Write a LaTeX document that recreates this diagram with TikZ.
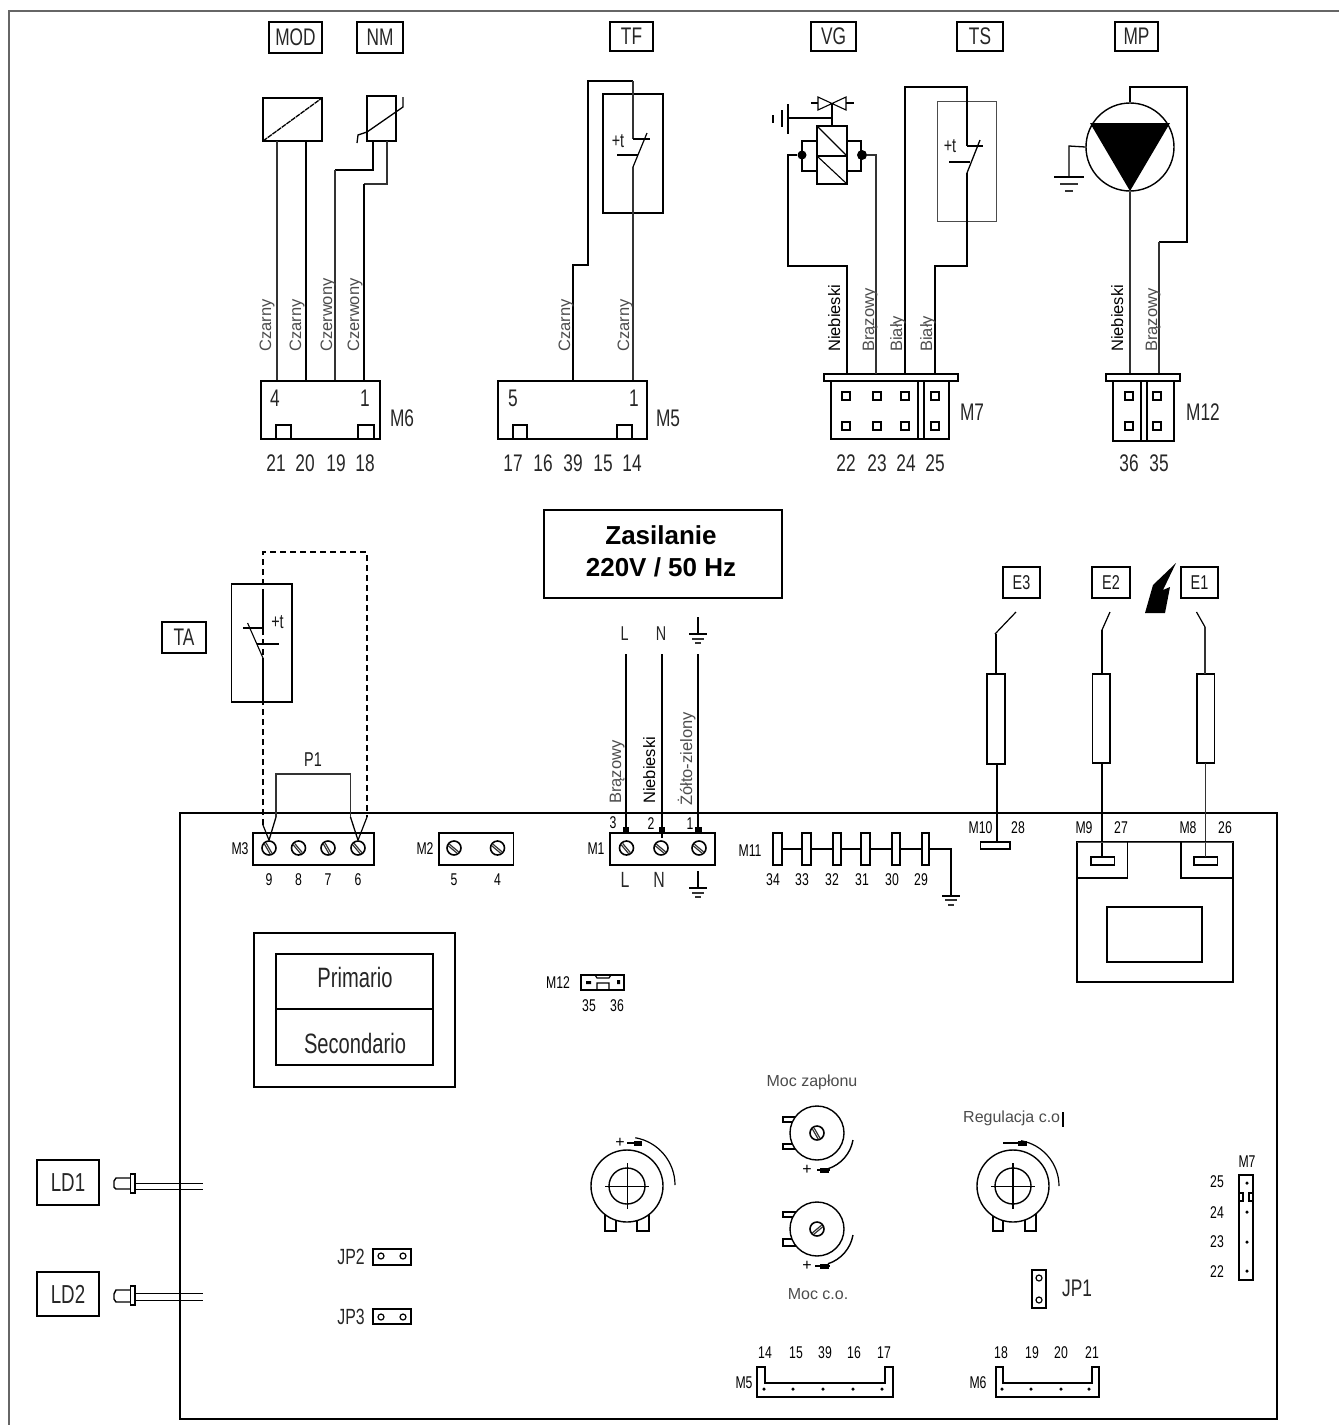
\documentclass[tikz,border=0pt]{standalone}
\usepackage{fontspec}
\setmainfont{Liberation Sans}
\newfontfamily\cad[FakeStretch=0.72]{Liberation Sans}
\usetikzlibrary{calc}
\newcommand\bx[6]{\node[boxn,#6,minimum width={(#4)-(#2)},minimum height={(#5)-(#3)}] (#1) at ({((#2)+(#4))/2},{((#3)+(#5))/2}) {};}
\newcommand\sq[3]{\node[sqn] (#1) at (#2,#3) {};}
\newcommand\screw[4]{\node[screwn] (#1) at (#2,#3) {};\draw[thinw] ($(#1)+(#4:6)$) -- ($(#1)+(#4+180:6)$);\draw[thinw] ($(#1)+(#4:6)+(#4+90:2)$) -- ($(#1)+(#4+180:6)+(#4+90:2)$);}
\newcommand\gnd[7]{\draw[thickw,line width=1.6pt] (#1-#3,#2) -- (#1+#3,#2);\draw[thinw,line width=1.2pt] (#1-#4,#2+#5) -- (#1+#4,#2+#5);\draw[thinw,line width=1.6pt] (#1-#6,#2+#7) -- (#1+#6,#2+#7);}
\tikzset{
 x=1pt,y=-1pt,
 boxn/.style={draw,inner sep=0pt,outer sep=0pt,line width=1.2pt},
 tb/.style={line width=2.2pt},
 sqn/.style={draw,inner sep=0pt,minimum size=8pt,line width=1.2pt},
 screwn/.style={draw,circle,inner sep=0pt,minimum size=14pt,line width=1.6pt},
 holen/.style={draw,circle,inner sep=0pt,minimum size=6pt,line width=1.2pt},
 dotn/.style={fill,circle,inner sep=0pt,minimum size=3.5pt},
 potn/.style={draw,circle,fill=white,inner sep=0pt,line width=1.4pt},
 thinw/.style={line width=1.2pt,draw=black!80},
 thickw/.style={line width=2.2pt,draw=black},
 big/.style={font=\cad\fontsize{24}{24}\selectfont,inner sep=0pt,text=black!85},
 mid/.style={font=\cad\fontsize{20}{20}\selectfont,inner sep=0pt,text=black!90},
 small/.style={font=\cad\fontsize{17}{17}\selectfont,inner sep=0pt,text=black},
 wl/.style={rotate=90,anchor=base west,inner sep=0pt,font=\fontsize{16.5}{16.5}\selectfont,text=black!70},
 wk/.style={wl,text=black},
 gl/.style={inner sep=0pt,font=\fontsize{16}{16}\selectfont,text=black!70},
}
\begin{document}
\begin{tikzpicture}
\useasboundingbox (0,0) rectangle (1339,1425);
% page frame
\coordinate (fA) at (9,1425); \coordinate (fB) at (9,11); \coordinate (fC) at (1339,11);
\draw[line width=1.4pt,draw=black!60] (fA) -- (fB) -- (fC);
% title tags
\bx{tMOD}{269}{22}{322}{53}{line width=1.8pt}\node[big] (ttMOD) at (tMOD) {MOD};
\bx{tNM}{357}{22}{403}{53}{line width=1.6pt}\node[big] (ttNM) at (tNM) {NM};
\bx{tTF}{610}{22}{653}{51}{line width=1.6pt}\node[big] (ttTF) at (tTF) {TF};
\bx{tVG}{811}{22}{856}{51}{line width=1.6pt}\node[big] (ttVG) at (tVG) {VG};
\bx{tTS}{957}{22}{1003}{51}{line width=1.8pt}\node[big] (ttTS) at (tTS) {TS};
\bx{tMP}{1115}{22}{1158}{51}{line width=1.6pt}\node[big] (ttMP) at (tMP) {MP};
% M6
\bx{M6}{261}{381}{380}{439}{line width=1.4pt}
\bx{m6a}{276}{425}{291}{439}{line width=1.4pt}
\bx{m6b}{358}{425}{374}{439}{line width=1.4pt}
\node[big] (m6n4) at (275,398) {4}; \node[big] (m6n1) at (365,398) {1}; \node[big] (m6l) at (402,418) {M6};
\node[big] (n21) at (276,463) {21}; \node[big] (n20) at (305,463) {20}; \node[big] (n19) at (336,463) {19}; \node[big] (n18) at (365,463) {18};
% MOD
\bx{MOD}{263}{98}{322}{141}{line width=1.5pt}
\coordinate (modA) at (277,141); \coordinate (modB) at (306,141);
\coordinate (p21) at (277,380); \coordinate (p20) at (306,380); \coordinate (p19) at (335,380); \coordinate (p18) at (364,380);
\draw[line width=1.3pt,dash pattern=on 5pt off .8pt] (MOD.south west) -- (MOD.north east);
\draw[thinw] (modA) -- (p21);
\draw[thickw] (modB) -- (p20);
% NM
\bx{NM}{367}{96}{396}{141}{line width=1.2pt}
\draw[line width=1.3pt] (357,143) -- (358,135) -- (367,132) -- (403,107) -- (403,97);
\coordinate (nmA) at (373,141); \coordinate (nmB) at (387,141);
\draw[thickw] (nmA) -- (373,170) -- (335,170);
\draw[thinw] (335,170) -- (p19);
\draw[thinw] (nmB) -- (387,184) -- (364,184);
\draw[thickw] (364,184) -- (p18);
\node[wl] (wa) at (271,352) {Czarny}; \node[wl] (wb) at (301,352) {Czarny};
\node[wl] (wc) at (332,352) {Czerwony}; \node[wl] (wd) at (359,352) {Czerwony};
% M5
\bx{M5}{498}{381}{647}{439}{line width=1.4pt}
\bx{m5a}{513}{425}{527}{439}{line width=1.4pt}
\bx{m5b}{617}{425}{632}{439}{line width=1.4pt}
\node[big] (m5n5) at (513,398) {5}; \node[big] (m5n1) at (634,398) {1}; \node[big] (m5l) at (668,418) {M5};
\node[big] (n17) at (513,463) {17}; \node[big] (n16) at (543,463) {16}; \node[big] (n39) at (573,463) {39}; \node[big] (n15) at (603,463) {15}; \node[big] (n14) at (632,463) {14};
% TF
\bx{TF}{603}{94}{663}{213}{line width=1.8pt}
\coordinate (p39) at (573,380); \coordinate (p14) at (633,380);
\draw[thickw] (p39) -- (573,265) -- (588,265) -- (588,81) -- (633,81);
\draw[thinw] (633,81) -- (633,139);
\draw[line width=1.6pt] (633,139) -- (650,139);
\draw[line width=1.2pt] (647,133) -- (633,167);
\draw[line width=1.6pt] (617,155) -- (638,155);
\draw[thinw] (633,167) -- (p14);
\node[mid] (tfT) at (618,141) {+t};
\node[wl] (we) at (570,352) {Czarny}; \node[wl] (wf) at (629,352) {Czarny};
% M7
\bx{M7bar}{824}{374}{958}{381}{line width=1.4pt}
\bx{M7}{831}{381}{949}{439}{line width=1.4pt}
\draw[line width=1.4pt] (918,381) -- (918,439) (924,381) -- (924,439);
\sq{q1}{846}{396}\sq{q2}{877}{396}\sq{q3}{905}{396}\sq{q4}{935}{396}
\sq{q5}{846}{426}\sq{q6}{877}{426}\sq{q7}{905}{426}\sq{q8}{935}{426}
\node[big] (m7l) at (972,412) {M7};
\node[big] (n22) at (846,463) {22}; \node[big] (n23) at (877,463) {23}; \node[big] (n24) at (906,463) {24}; \node[big] (n25) at (935,463) {25};
% VG
\bx{VGc}{817}{126}{847}{184}{line width=1.2pt}
\draw[line width=1.2pt] (817,156) -- (847,156);
\draw[line width=1.1pt] (817,126) -- (847,156) (817,156) -- (847,184);
\draw[line width=1.1pt] (818,97) -- (846,110) -- (846,97) -- (818,110) -- cycle;
\draw[line width=1.1pt] (811,103) -- (818,103) (846,103) -- (854,103);
\draw[line width=1.3pt] (832,103) -- (VGc.north);
\draw[line width=1.3pt] (788,118) -- (832,118);
\draw[line width=1.6pt] (788,104) -- (788,134);
\draw[line width=1.3pt] (782,110) -- (782,127);
\draw[line width=1.6pt] (773,115) -- (773,123);
\draw[line width=1.2pt] (817,141) -- (802,141) -- (802,171) -- (817,171);
\draw[line width=1.2pt] (847,141) -- (861,141) -- (861,171) -- (847,171);
\node[dotn,minimum size=9pt] (dL) at (802,155) {}; \node[dotn,minimum size=10pt] (dR) at (862,155) {};
\coordinate (p22) at (847,374); \coordinate (p23) at (876,374); \coordinate (p24) at (905,374); \coordinate (p25) at (935,374);
\draw[thickw] (dL) -- (788,155) -- (788,266) -- (847,266) -- (p22);
\draw[thinw] (dR) -- (876,155) -- (p23);
% TS
\bx{TS}{937}{101}{996}{221}{draw=black!70,line width=1pt}
\draw[thickw] (p24) -- (905,87) -- (967,87) -- (967,146);
\draw[line width=1.8pt] (967,146) -- (983,146);
\draw[line width=1.3pt] (980,140) -- (967,173);
\draw[line width=1.8pt] (949,162) -- (970,162);
\draw[thickw] (967,173) -- (967,266) -- (935,266) -- (p25);
\node[mid] (tsT) at (950,146) {+t};
\node[wk] (wg) at (840,352) {Niebieski}; \node[wl] (wh) at (874,352) {Brązowy};
\node[wl] (wi) at (902,352) {Biały}; \node[wl] (wj) at (932,352) {Biały};
% Pump
\node[draw,circle,inner sep=0pt,minimum size=88pt,line width=1.4pt] (MP) at (1130,147) {};
\fill (1090,123) -- (1170,123) -- (1130,191) -- cycle;
\coordinate (p36) at (1130,374); \coordinate (p35) at (1159,374);
\draw[thinw] (MP.south) -- (p36);
\draw[line width=1.8pt] (MP.north) -- (1130,87) -- (1187,87) -- (1187,242) -- (1159,242);
\draw[thinw] (1159,242) -- (p35);
\draw[line width=1.3pt] (MP.west) -- (1069,146) -- (1069,177);
\gnd{1069}{177}{15}{9}{7}{4}{14}
\bx{M12bar}{1106}{374}{1180}{381}{line width=1.4pt}
\bx{M12}{1113}{381}{1174}{441}{line width=1.9pt}
\draw[line width=1.6pt] (1141,381) -- (1141,441) (1147,381) -- (1147,441);
\sq{q9}{1129}{396}\sq{q10}{1157}{396}\sq{q11}{1129}{426}\sq{q12}{1157}{426}
\node[big] (m12l) at (1203,412) {M12};
\node[big] (n36) at (1129,463) {36}; \node[big] (n35) at (1159,463) {35};
\node[wk] (wk1) at (1123,352) {Niebieski}; \node[wl] (wl1) at (1157,352) {Brązowy};
% Zasilanie
\bx{ZAS}{544}{510}{782}{598}{line width=1.2pt}
\node[inner sep=0pt,align=center,font=\bfseries\fontsize{26}{32}\selectfont] (zast) at (661,551) {Zasilanie\\220V / 50 Hz};
% board
\bx{BOARD}{180}{813}{1277}{1419}{line width=2pt}
% TA
\bx{TAtag}{162}{622}{206}{653}{line width=1.4pt}\node[big] (ttTA) at (TAtag) {TA};
\bx{TA}{231.5}{584}{292}{702}{line width=1.8pt}
\draw[line width=1.5pt] (263,594) -- (263,628) -- (243,628);
\draw[line width=1.1pt] (247.6,623) -- (263,658);
\draw[line width=1.6pt] (257,644) -- (279,644);
\draw[line width=1.5pt] (263,658) -- (263,702);
\node[mid] (taT) at (277.5,622) {+t};
% M3
\bx{M3}{253}{833}{374}{865}{line width=1.8pt}
\screw{s9}{269}{848}{60}\screw{s8}{298.5}{848}{50}\screw{s7}{328}{848}{60}\screw{s6}{358}{848}{50}
\node[small] (m3l) at (240,849) {M3};
\node[small] (n9) at (269,880) {9}; \node[small] (n8) at (298.5,880) {8}; \node[small] (n7) at (328,880) {7}; \node[small] (n6) at (358,880) {6};
\draw[line width=1.6pt,dash pattern=on 6pt off 4pt] (263,825) -- (263,552) -- (367,552) -- (367,817);
\draw[line width=1.2pt] (263,825) -- (s9.north) (367,817) -- (s6.north);
\draw[thinw] (276,817) -- (276,774) -- (350.5,774) -- (350.5,817);
\draw[line width=1.3pt] (276,817) -- (s9.north) (350.5,817) -- (s6.north);
\node[mid] (p1l) at (313,760) {P1};
% M2
\bx{M2}{439}{833}{513.5}{865}{line width=1.4pt}
\screw{s5}{454}{848}{40}\screw{s4}{497.5}{848}{40}
\node[small] (m2l) at (425,849) {M2};
\node[small] (n5) at (454,880) {5}; \node[small] (n4) at (497.5,880) {4};
% M1
\bx{M1}{610}{833}{715}{865}{line width=1.8pt}
\screw{sL}{626.5}{848}{50}\screw{sN}{661}{848}{40}\screw{sE}{699}{848}{40}
\node[small] (m1l) at (596,849) {M1};
\node[small] (m1a) at (613,823) {3}; \node[small] (m1b) at (651,824) {2}; \node[small] (m1c) at (690,824) {1};
\node[big,font=\cad\fontsize{22}{22}\selectfont] (m1L) at (625,880) {L}; \node[big,font=\cad\fontsize{22}{22}\selectfont] (m1N) at (659,880) {N};
\draw[line width=1.3pt] (698,871) -- (698,888);
\gnd{698}{888}{9}{6}{5}{3}{9}
\node[big,font=\cad\fontsize{20}{20}\selectfont] (lL) at (624.6,634) {L}; \node[big,font=\cad\fontsize{20}{20}\selectfont] (lN) at (661,634) {N};
\draw[line width=1.3pt] (698,617) -- (698,634);
\gnd{698}{634}{9}{6}{5}{3}{9}
\coordinate (wL) at (626,654); \coordinate (wN) at (662,654); \coordinate (wE) at (698,654);
\draw[thickw] (wL) -- (626,832); \fill (622.5,827) rectangle (629,834);
\draw[thickw] (wN) -- (662,838); \fill (659,827) rectangle (665,832);
\draw[thickw] (wE) -- (698,832); \fill (695,827) rectangle (702,834);
\node[wl] (wm) at (621,804) {Brązowy}; \node[wk] (wn) at (655,804) {Niebieski}; \node[wl] (wo) at (692,806) {Żółto-zielony};
% M11
\node[small] (m11l) at (750,851) {M11};
\coordinate (m11s) at (782,849); \coordinate (m11g) at (951,849);
\draw[line width=1.4pt] (m11s) -- (m11g) -- (951,896);
\bx{r34}{773}{833}{782}{865}{fill=white,line width=1.6pt}
\bx{r33}{802}{833}{811}{865}{fill=white}
\bx{r32}{833}{833}{841}{865}{fill=white}
\bx{r31}{861}{833}{870}{865}{fill=white}
\bx{r30}{892}{833}{900}{865}{fill=white,line width=1.8pt}
\bx{r29}{922}{833}{929}{865}{fill=white}
\gnd{951}{896}{9}{6}{4}{3}{9}
\node[small] (n34) at (773,880) {34}; \node[small] (n33) at (802,880) {33}; \node[small] (n32) at (832,880) {32}; \node[small] (n31) at (862,880) {31}; \node[small] (n30) at (892,880) {30}; \node[small] (n29) at (921,880) {29};
% electrodes tags
\bx{tE3}{1003}{567}{1040}{598}{line width=1.8pt}\node[mid] (ttE3) at (tE3) {E3};
\bx{tE2}{1092}{567}{1130}{598}{line width=1.8pt}\node[mid] (ttE2) at (tE2) {E2};
\bx{tE1}{1181}{567}{1218}{598}{line width=1.4pt}\node[mid] (ttE1) at (tE1) {E1};
\fill (1176,563) -- (1153,585) -- (1145,613) -- (1165,613) -- (1170,587) -- (1163,590) -- cycle;
% E3
\bx{E3}{987}{674}{1005}{764}{line width=1.2pt}
\draw[line width=1.2pt] (1016,612) -- (995,634);
\draw[line width=1.2pt] (996,634) -- (996,674);
\bx{E3b}{980.5}{842}{1010}{849}{line width=1.4pt}
\draw[line width=1.8pt] (997,764) -- (997,842);
% E2
\bx{E2}{1092.5}{674}{1110}{763}{line width=1.8pt}
\draw[line width=1.2pt] (1110,612) -- (1102,630);
\draw[line width=1.6pt] (1102,630) -- (1102,674);
\bx{E2b}{1091}{857}{1114.6}{865}{line width=1.4pt}
\draw[thickw] (1102,763) -- (1102,857);
% E1
\bx{E1}{1197}{674}{1214.4}{763}{line width=1.8pt}
\draw[line width=1.2pt] (1196.5,612) -- (1205,627);
\draw[thinw] (1205,627) -- (1205,674);
\bx{E1b}{1194}{857}{1217.5}{865}{line width=1.4pt}
\draw[thinw] (1205.6,763) -- (1205.6,857);
% transformer
\bx{TR}{1077}{842}{1233}{982}{line width=1.8pt}
\draw[line width=1pt,draw=black!70] (1077,842) -- (1233,842);
\draw[line width=1.5pt] (1077,878) -- (1127.6,878) -- (1127.6,842);
\draw[line width=1.1pt] (1233,878) -- (1181,878) -- (1181,842);
\bx{TRi}{1107}{907}{1202}{962}{line width=1.2pt}
\draw[line width=1.8pt] (1107,907) -- (1202,907);
\node[small] (m10l) at (980.5,828) {M10}; \node[small] (n28) at (1018,828) {28};
\node[small] (m9l) at (1084,828) {M9}; \node[small] (n27) at (1121,828) {27};
\node[small] (m8l) at (1188,828) {M8}; \node[small] (n26) at (1225,828) {26};
% transformer block
\bx{TB}{254}{933}{455}{1087}{line width=1.2pt}
\bx{TBi}{276}{954}{433}{1065}{line width=1.6pt}
\draw[line width=1.2pt] (276,1009) -- (433,1009);
\node[big,font=\cad\fontsize{28}{28}\selectfont] (prim) at (355,977) {Primario};
\node[big,font=\cad\fontsize{28}{28}\selectfont] (sec) at (355,1043) {Secondario};
% M12 small
\node[small] (m12sl) at (558,983) {M12};
\bx{m12s}{581}{975}{624}{990}{line width=1.4pt}
\draw[line width=1.2pt] (595,975) -- (597,978) -- (609,978) -- (611,975) (597,990) -- (597,983) -- (609,983) -- (609,990);
\fill (586,981) rectangle (591,984) (617,980) rectangle (620,984);
\node[small] (n35s) at (589,1006) {35}; \node[small] (n36s) at (617,1006) {36};
% big pots
\bx{P1a}{605}{1210}{616}{1231}{line width=1.2pt}\bx{P1b}{637}{1210}{649}{1231}{line width=1.2pt}
\node[potn,minimum size=72pt] (P1o) at (627,1186) {};
\node[potn,minimum size=36pt] (P1i) at (627,1186) {};
\draw[line width=.9pt] (605,1186) -- (649,1186) (627,1163) -- (627,1209);
\draw[line width=1.2pt] (675,1185) arc[start angle=0,end angle=-80,radius=48];
\draw[line width=2pt] (627,1143) -- (642,1143);\fill (634,1141) rectangle (642,1146);
\node[gl,text=black] (P1p) at (620,1143) {+};
\bx{P2a}{993}{1210}{1003}{1231}{line width=1.2pt}\bx{P2b}{1025}{1210}{1036}{1231}{line width=1.2pt}
\node[potn,minimum size=72pt] (P2o) at (1013,1186) {};
\node[potn,minimum size=36pt] (P2i) at (1013,1186) {};
\draw[line width=.9pt] (991,1186) -- (1035,1186);\draw[line width=1.3pt] (1013,1163) -- (1013,1209);
\draw[line width=1.2pt] (1059,1186) arc[start angle=0,end angle=-80,radius=46];
\draw[line width=2pt] (1003,1143) -- (1027,1143);\fill (1018,1141) rectangle (1027,1146);
% small pots
\bx{P3a}{783}{1117}{800}{1122}{line width=1.2pt}\bx{P3b}{783}{1144}{800}{1149}{line width=1.2pt}
\node[potn,minimum size=54pt] (P3o) at (817,1133) {};
\screw{P3s}{817}{1133}{60}
\draw[line width=1.4pt] (853,1140) arc[start angle=10,end angle=72,radius=37];
\draw[line width=2pt] (817,1170) -- (830,1170);\fill (820,1168) rectangle (829,1173);
\node[gl,text=black] (P3p) at (807,1170) {+};
\bx{P4a}{783}{1212}{800}{1217}{line width=1.2pt}\bx{P4b}{783}{1239}{800}{1246}{line width=1.2pt}
\node[potn,minimum size=54pt] (P4o) at (817,1229) {};
\screw{P4s}{817}{1229}{-40}
\draw[line width=1.4pt] (853,1235) arc[start angle=10,end angle=72,radius=37];
\draw[line width=2pt] (815,1266) -- (830,1266);\fill (820,1264) rectangle (829,1269);
\node[gl,text=black] (P4p) at (807,1266) {+};
\node[gl] (mz) at (812,1082) {Moc zapłonu};
\node[gl] (mc) at (818,1294) {Moc c.o.};
\node[gl,anchor=west] (rg) at (963,1118) {Regulacja c.o};
\draw[line width=2pt] (1063,1112) -- (1063,1127);
% JP1
\bx{JP1}{1032}{1270}{1046}{1308}{line width=1.3pt}
\node[holen] (j1a) at (1039,1278) {}; \node[holen] (j1b) at (1039,1300) {};
\node[big] (jp1l) at (1077,1288) {JP1};
% M5 lower
\node[small] (m5sl) at (744,1383) {M5};
\coordinate (m5u) at (757,1367); \coordinate (m5v) at (893,1367);
\draw[line width=1.6pt] (m5u) -- (757,1397) -- (893,1397) -- (m5v) -- (885,1367) -- (885,1383) -- (765,1383) -- (765,1367) -- cycle;
\foreach \i/\x in {a/764,b/793,c/823,d/853,e/882} \node[dotn] (m5d\i) at (\x,1389) {};
\node[small] (n14s) at (765,1353) {14}; \node[small] (n15s) at (796,1353) {15}; \node[small] (n39s) at (825,1353) {39}; \node[small] (n16s) at (854,1353) {16}; \node[small] (n17s) at (884,1353) {17};
% M6 lower
\node[small] (m6sl) at (978,1383) {M6};
\coordinate (m6u) at (996,1367); \coordinate (m6v) at (1099,1367);
\draw[line width=1.6pt] (m6u) -- (996,1397) -- (1099,1397) -- (m6v) -- (1092,1367) -- (1092,1383) -- (1003,1383) -- (1003,1367) -- cycle;
\foreach \i/\x in {a/1002,b/1031,c/1061,d/1089} \node[dotn] (m6d\i) at (\x,1389) {};
\node[small] (n18s) at (1001,1353) {18}; \node[small] (n19s) at (1032,1353) {19}; \node[small] (n20s) at (1061,1353) {20}; \node[small] (n21s) at (1092,1353) {21};
% M7 right
\bx{M7r}{1239}{1175}{1253}{1280}{line width=1.3pt}
\bx{m7a}{1239}{1193}{1243}{1201}{line width=1.1pt}\bx{m7b}{1249}{1193}{1253}{1201}{line width=1.1pt}
\foreach \i/\y in {a/1183,b/1212,c/1242,d/1271} \node[dotn] (m7d\i) at (1247,\y) {};
\node[small] (m7sl) at (1247,1162) {M7};
\node[small] (n25s) at (1217,1182) {25}; \node[small] (n24s) at (1217,1213) {24}; \node[small] (n23s) at (1217,1242) {23}; \node[small] (n22s) at (1217,1272) {22};
% LEDs
\bx{LD1}{37}{1160}{99}{1205}{line width=1.3pt}\node[big,font=\cad\fontsize{26}{26}\selectfont] (ttLD1) at (LD1) {LD1};
\bx{LD2}{37}{1272}{99}{1316}{line width=1.3pt}\node[big,font=\cad\fontsize{26}{26}\selectfont] (ttLD2) at (LD2) {LD2};
\draw[line width=1.4pt] (130.5,1178) -- (116,1178) -- (114,1181) -- (114,1187) -- (116,1189) -- (130.5,1189);
\bx{L1f}{130.7}{1174}{135}{1193}{line width=1.2pt}
\coordinate (l1a) at (203,1183); \coordinate (l1b) at (203,1189);
\draw[line width=1pt] (L1f.east |- l1a) -- (l1a) (L1f.east |- l1b) -- (l1b);
\draw[line width=1.4pt] (130.5,1290) -- (116,1290) -- (114,1294) -- (114,1299) -- (116,1302) -- (130.5,1302);
\bx{L2f}{130.7}{1286}{135}{1305}{line width=1.2pt}
\coordinate (l2a) at (203,1293); \coordinate (l2b) at (203,1300);
\draw[line width=1pt] (L2f.east |- l2a) -- (l2a) (L2f.east |- l2b) -- (l2b);
% JP2 JP3
\node[big,font=\cad\fontsize{22}{22}\selectfont] (jp2l) at (351,1257) {JP2};
\bx{JP2}{373}{1249}{411}{1265}{line width=1.8pt}
\node[holen] (j2a) at (381,1256) {}; \node[holen] (j2b) at (403,1256) {};
\node[big,font=\cad\fontsize{22}{22}\selectfont] (jp3l) at (351,1317) {JP3};
\bx{JP3}{373}{1309}{411}{1324}{line width=1.6pt}
\node[holen] (j3a) at (381,1317) {}; \node[holen] (j3b) at (403,1317) {};
\end{tikzpicture}
\end{document}
